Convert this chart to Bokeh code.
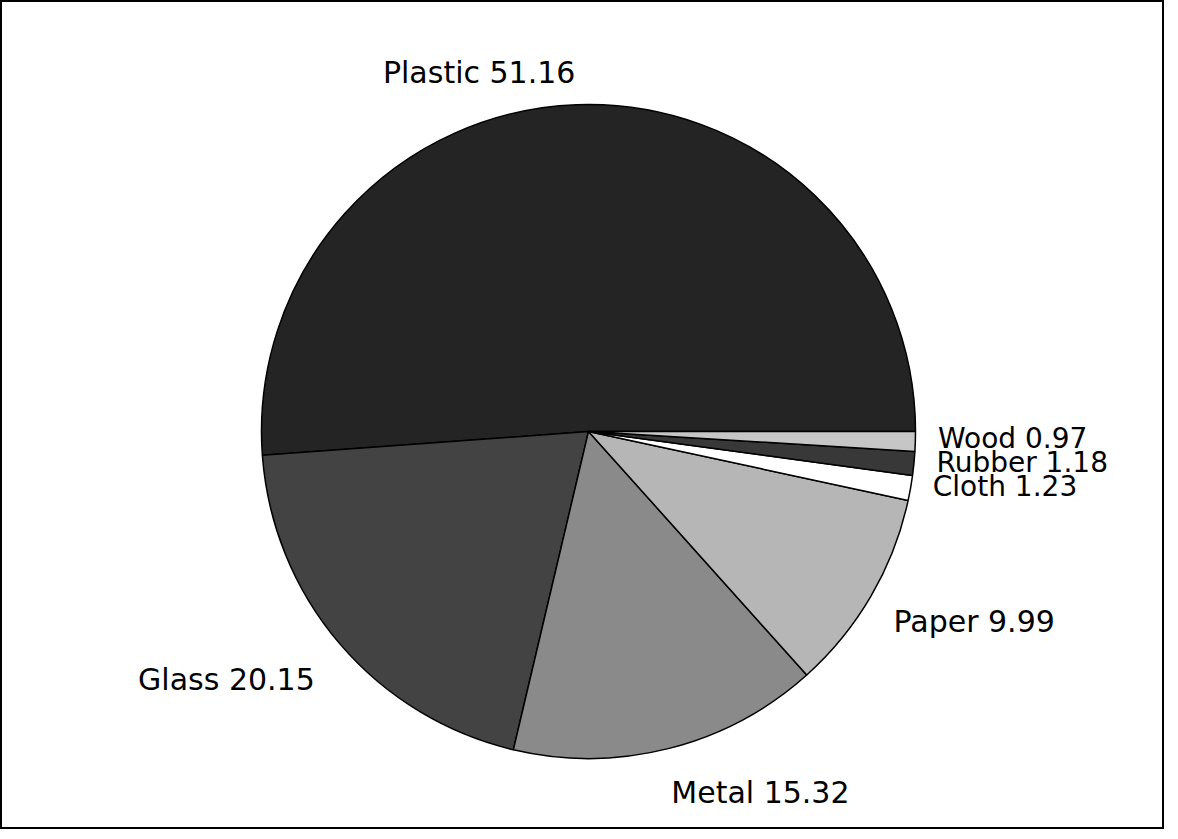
import math
from bokeh.plotting import figure
from bokeh.models import Range1d, ColumnDataSource
from bokeh.core.properties import value
from bokeh.embed import file_html
from bokeh.resources import INLINE

# ---- data ----
materials = ["Plastic", "Glass", "Metal", "Paper", "Cloth", "Rubber", "Wood"]
percents = [51.16, 20.15, 15.32, 9.99, 1.23, 1.18, 0.97]

# ---- style / layout ----
colors = ["#242424", "#434343", "#8a8a8a", "#b6b6b6", "#ffffff", "#383838", "#c6c6c6"]
W, H = 1164, 829
CX, CY, R = 588, 398, 327
label_k = 1.10
label_dx = [0, 0, -6, -6, -10, -10, -10]
label_dy = [0, -15, -12, -9, 7, 4, 4]
label_size = ["30px", "30px", "30px", "30px", "28px", "28px", "28px"]

total = sum(percents)
starts, ends, mids = [], [], []
acc = 0.0
for v in percents:
    a0 = acc / total * 2 * math.pi
    acc += v
    a1 = acc / total * 2 * math.pi
    starts.append(a0)
    ends.append(a1)
    mids.append((a0 + a1) / 2)

src = ColumnDataSource(dict(start=starts, end=ends, color=colors))

p = figure(width=W, height=H, output_backend="svg", toolbar_location=None,
           x_range=Range1d(0, W), y_range=Range1d(0, H), min_border=0)
p.axis.visible = False
p.grid.visible = False
p.outline_line_color = "black"
p.outline_line_width = 3
p.background_fill_color = "white"

p.wedge(x=CX, y=CY, radius=R, start_angle="start", end_angle="end",
        fill_color="color", line_color="black", line_width=1.5, source=src)

lx, ly, txt, align, sizes = [], [], [], [], []
for i, (m, v) in enumerate(zip(materials, percents)):
    c = math.cos(mids[i])
    s = math.sin(mids[i])
    lx.append(CX + label_k * R * c + label_dx[i])
    ly.append(CY + label_k * R * s + label_dy[i])
    txt.append(f"{m} {v:.2f}")
    align.append("left" if c >= 0 else "right")
    sizes.append(label_size[i])

lsrc = ColumnDataSource(dict(x=lx, y=ly, text=txt, align=align, size=sizes))
p.text(x="x", y="y", text="text", text_align="align", text_baseline="middle",
       text_font=value("DejaVu Sans"), text_font_size="size", text_color="black",
       source=lsrc)

open("out.html", "w").write(file_html(p, INLINE))
